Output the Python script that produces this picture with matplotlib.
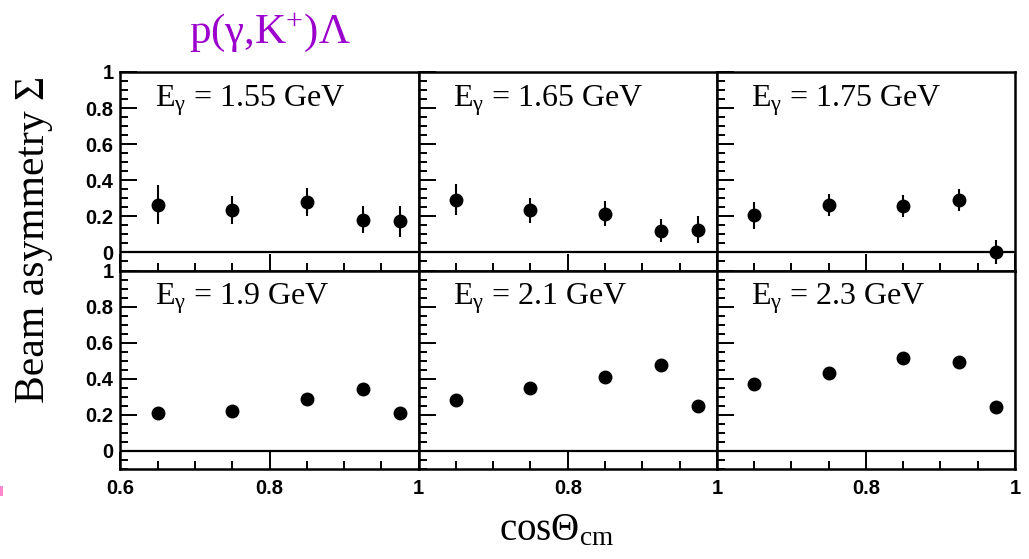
import matplotlib
matplotlib.use("Agg")
import matplotlib.pyplot as plt
from matplotlib.patches import Rectangle
from matplotlib.ticker import MultipleLocator, FixedLocator

# Beam asymmetry for p(gamma,K+)Lambda at six photon energies
cos_theta = [0.65, 0.75, 0.85, 0.925, 0.975]
energies = ["1.55", "1.65", "1.75", "1.9", "2.1", "2.3"]

sigma_155 = [0.265, 0.235, 0.279, 0.182, 0.172]
err_155 = [0.107, 0.080, 0.076, 0.075, 0.086]
sigma_165 = [0.293, 0.233, 0.215, 0.121, 0.126]
err_165 = [0.087, 0.070, 0.068, 0.065, 0.074]
sigma_175 = [0.206, 0.265, 0.257, 0.289, 0.002]
err_175 = [0.074, 0.061, 0.063, 0.060, 0.068]
sigma_190 = [0.208, 0.222, 0.287, 0.343, 0.208]
err_190 = [0.030, 0.025, 0.020, 0.020, 0.030]
sigma_210 = [0.280, 0.348, 0.409, 0.474, 0.248]
err_210 = [0.020, 0.018, 0.018, 0.018, 0.018]
sigma_230 = [0.372, 0.432, 0.517, 0.493, 0.244]
err_230 = [0.015, 0.015, 0.015, 0.015, 0.015]

sigmas = [sigma_155, sigma_165, sigma_175, sigma_190, sigma_210, sigma_230]
errors = [err_155, err_165, err_175, err_190, err_210, err_230]

serif = ["Liberation Serif", "DejaVu Serif"]
sans = ["Liberation Sans", "DejaVu Sans"]

# Times-like glyphs for math pieces (sub/superscripts, Greek letters)
plt.rcParams["mathtext.fontset"] = "custom"
plt.rcParams["mathtext.rm"] = "Liberation Serif"
plt.rcParams["mathtext.it"] = "Liberation Serif:italic"
plt.rcParams["mathtext.bf"] = "Liberation Serif:bold"

fig, axes = plt.subplots(2, 3, figsize=(10.29, 5.59), dpi=100)
fig.subplots_adjust(left=0.1171, right=0.9864, top=0.8712, bottom=0.161,
                    wspace=0, hspace=0)

for i, ax in enumerate(axes.flat):
    row, col = divmod(i, 3)
    ax.errorbar(cos_theta, sigmas[i], yerr=errors[i], fmt="o", color="black",
                markersize=9, elinewidth=1.5, capsize=0, zorder=3)
    ax.axhline(0, color="black", lw=1.6, zorder=2)
    ax.set_xlim(0.6, 1.0)
    ax.set_ylim(-0.1, 1.0)
    for s in ax.spines.values():
        s.set_linewidth(1.8)

    ax.xaxis.set_major_locator(FixedLocator([0.6, 0.8, 1.0]))
    ax.xaxis.set_minor_locator(MultipleLocator(0.05))
    ax.yaxis.set_major_locator(FixedLocator([0, 0.2, 0.4, 0.6, 0.8, 1.0]))
    ax.yaxis.set_minor_locator(MultipleLocator(0.05))
    ax.tick_params(which="both", direction="in", top=False, right=False,
                   width=1.4)
    ax.tick_params(which="major", length=12.5)
    ax.tick_params(which="minor", length=6)
    ax.tick_params(axis="x", which="major", pad=7)
    ax.tick_params(axis="y", which="major", pad=5)

    if col == 0:
        ax.set_yticklabels(["0", "0.2", "0.4", "0.6", "0.8", "1"])
    else:
        ax.set_yticklabels([])
    if row == 1:
        if col == 0:
            ax.set_xticklabels(["0.6", "0.8", "1"])
        else:
            ax.set_xticklabels(["", "0.8", "1"])
    else:
        ax.set_xticklabels([])
    for lab in ax.get_xticklabels() + ax.get_yticklabels():
        lab.set_fontfamily(sans)
        lab.set_fontweight("bold")
        lab.set_fontsize(14.5)

    ax.text(0.115, 0.827, r"E$_{\mathrm{γ}}$ = " + energies[i] + " GeV",
            transform=ax.transAxes, fontsize=23, family=serif,
            ha="left", va="baseline")

fig.text(0.033, 0.571, "Beam asymmetry Σ", rotation=90, fontsize=30,
         family=serif, ha="center", va="center")
fig.text(0.541, 0.034, r"cosΘ$_{\mathrm{cm}}$", fontsize=28, family=serif,
         ha="center", va="baseline")
fig.text(0.2624, 0.923, r"p(γ,K$^{\mathrm{+}}$)Λ", fontsize=31,
         family=serif, color="#9b00cc", ha="center", va="baseline")

# small pink sliver at the left edge
fig.patches.append(Rectangle((0, 1 - 496 / 559), 2.5 / 1029, 10 / 559,
                             transform=fig.transFigure, color="#ff88cc",
                             lw=0))

fig.savefig("out.png", dpi=100)
